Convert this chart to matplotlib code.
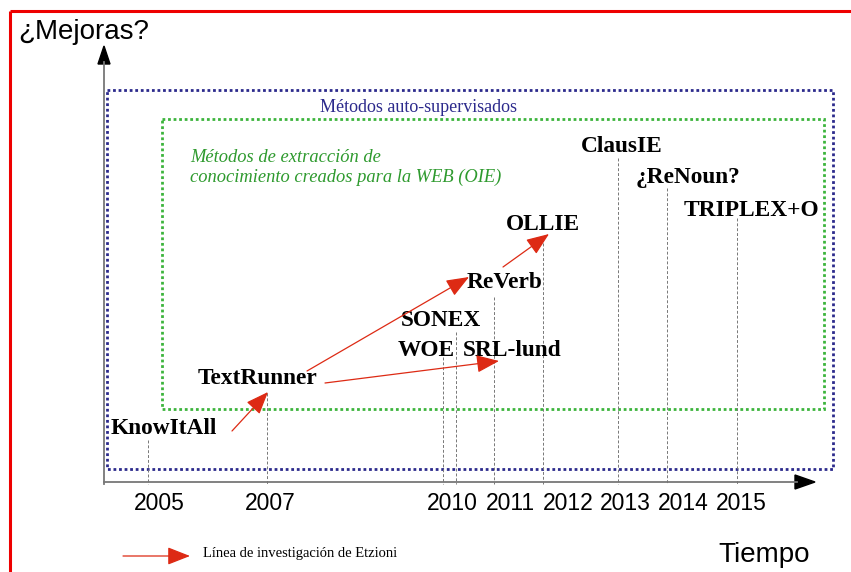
import matplotlib
matplotlib.use("Agg")
import matplotlib.pyplot as plt
from matplotlib.patches import Rectangle, Polygon

# ---- data ----
methods = ["KnowItAll", "TextRunner", "WOE", "SONEX", "SRL-lund",
           "ReVerb", "OLLIE", "ClausIE", "¿ReNoun?", "TRIPLEX+O"]
year_labels = ["2005", "2007", "2010", "2011", "2012", "2013", "2014", "2015"]
etzioni_links = [("KnowItAll", "TextRunner"), ("TextRunner", "ReVerb"),
                 ("TextRunner", "SRL-lund"), ("ReVerb", "OLLIE")]
title_y = "¿Mejoras?"
title_x = "Tiempo"
box_outer = "Métodos auto-supervisados"
box_inner = ["Métodos de extracción de", "conocimiento creados para la WEB (OIE)"]
legend_text = "Línea de investigación de Etzioni"

# ---- layout (diagram coordinates, pixels) ----
label_pos = {"KnowItAll": (111, 428), "TextRunner": (198, 379), "WOE": (398, 350),
             "SONEX": (401, 321), "SRL-lund": (463, 350), "ReVerb": (467, 282),
             "OLLIE": (506, 225), "ClausIE": (581, 146), "¿ReNoun?": (636, 177),
             "TRIPLEX+O": (684, 210)}
guide_lines = [(148, 440), (267, 393), (443, 357), (456, 332), (494, 297),
               (543, 243), (618, 158), (667, 188), (737, 218)]
year_x = [159, 270, 452, 510, 568, 625, 683, 741]
arrow_pts = {("KnowItAll", "TextRunner"): ((232, 431), (268, 392)),
             ("TextRunner", "ReVerb"): ((307, 371), (469, 277)),
             ("TextRunner", "SRL-lund"): ((325, 383), (499, 361)),
             ("ReVerb", "OLLIE"): ((503, 267), (549, 234))}

RED = "#dd2a14"
HEAD = "-|>,head_length=1.4,head_width=0.55"
fig = plt.figure(figsize=(8.51, 5.72), dpi=100)
ax = fig.add_axes([0, 0, 1, 1])
ax.set_xlim(0, 851)
ax.set_ylim(572, 0)
ax.axis("off")

# red frame (top and left)
ax.plot([10, 851], [11, 11], color="#ee0000", lw=2.2, solid_capstyle="butt")
ax.plot([10, 10], [11, 572], color="#ee0000", lw=2.2, solid_capstyle="butt")

# boxes
ax.add_patch(Rectangle((107, 90), 726, 379, fill=False, edgecolor="#2c2a8c",
                       lw=2.0, linestyle=(0, (1, 1))))
ax.add_patch(Rectangle((162, 119), 662, 290, fill=False, edgecolor="#3cb43c",
                       lw=2.0, linestyle=(0, (1, 1))))
ax.text(419, 107, box_outer, color="#2c2a8c", fontsize=13, family="Liberation Serif",
        ha="center", va="center")
ax.text(190, 157, box_inner[0], color="#2e9a2e", fontsize=13.3, style="italic",
        family="Liberation Serif", ha="left", va="center")
ax.text(190, 177, box_inner[1], color="#2e9a2e", fontsize=13.3, style="italic",
        family="Liberation Serif", ha="left", va="center")

# guide lines
for gx, gtop in guide_lines:
    ax.plot([gx, gx], [gtop, 484], color="#777777", lw=0.7, linestyle=(0, (3, 2)))

# axes with arrows
ax.plot([104, 104], [484, 62], color="#777777", lw=1.3)
ax.add_patch(Polygon([[98, 64], [110, 64], [104, 46]], closed=True, color="black"))
ax.plot([104, 797], [482, 482], color="#777777", lw=1.3)
ax.add_patch(Polygon([[795, 475], [795, 489], [815, 482]], closed=True, color="black"))

ax.text(18, 32, title_y, fontsize=20, family="Liberation Sans", ha="left", va="center")
ax.text(764, 555, title_x, fontsize=20, family="Liberation Sans", ha="center", va="center")

for lab, xx in zip(year_labels, year_x):
    ax.text(xx, 504, lab, fontsize=16.5, family="Liberation Sans", ha="center", va="center")

# method labels
for m in methods:
    x0, y0 = label_pos[m]
    ax.text(x0, y0, m, fontsize=16.8, fontweight="bold", family="Liberation Serif",
            ha="left", va="center")

# Etzioni arrows
for link in etzioni_links:
    (x0, y0), (x1, y1) = arrow_pts[link]
    ax.annotate("", xy=(x1, y1), xytext=(x0, y0),
                arrowprops=dict(arrowstyle=HEAD, color=RED, lw=0.9,
                                shrinkA=0, shrinkB=0))

# legend
ax.annotate("", xy=(190, 556), xytext=(123, 556),
            arrowprops=dict(arrowstyle=HEAD, color=RED, lw=0.9, shrinkA=0, shrinkB=0))
ax.text(203, 554, legend_text, fontsize=10.5, family="Liberation Serif",
        ha="left", va="center")

fig.savefig("out.png", dpi=100)
